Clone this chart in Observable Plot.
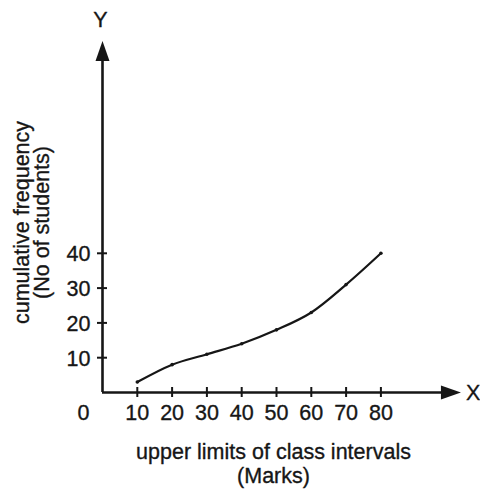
<!DOCTYPE html>
<html>
<head>
<meta charset="utf-8">
<script src="https://cdn.jsdelivr.net/npm/d3@7"></script>
<script src="https://cdn.jsdelivr.net/npm/@observablehq/plot@0.6"></script>
<style>
  html, body { margin: 0; padding: 0; background: #fff; }
  #chart { width: 480px; height: 489px; }
</style>
</head>
<body>
<div id="chart"></div>
<script>
// Data (upper limits of class intervals and cumulative frequencies)
const upperLimits = [10, 20, 30, 40, 50, 60, 70, 80];
const cumulativeFrequency = [3, 8, 11, 14, 18, 23, 31, 40];
const xTicks = [10, 20, 30, 40, 50, 60, 70, 80];
const yTicks = [10, 20, 30, 40];
const originLabel = ["0"];
const xAxisName = ["X"];
const yAxisName = ["Y"];
const xTitle = ["upper limits of class intervals", "(Marks)"];
const yTitle = ["cumulative frequency", "(No of students)"];
const xAxisEnd = [103];
const yAxisEnd = [101];

const points = upperLimits.map((x, i) => ({x, y: cumulativeFrequency[i]}));
const ink = "#161616";
const font = "'Liberation Sans', Arial, Helvetica, sans-serif";
const fs = 21.5;
const txt = {fill: ink, fontSize: fs, stroke: ink, strokeWidth: 0.35};

// filled arrowhead, tip at origin, pointing up
const arrowHead = {
  draw(ctx, size) {
    ctx.moveTo(0, 0);
    ctx.lineTo(-7, 20);
    ctx.lineTo(7, 20);
    ctx.closePath();
  }
};

const chart = Plot.plot({
  width: 480,
  height: 489,
  marginLeft: 102,
  marginRight: 30,
  marginTop: 44,
  marginBottom: 97,
  style: {fontFamily: font, fontSize: fs + "px", color: ink, background: "#fff"},
  x: {type: "linear", domain: [0, 100], axis: null},
  y: {type: "linear", domain: [0, 100], axis: null},
  marks: [
    // axes lines
    Plot.ruleY([0], {x1: 0, x2: xAxisEnd[0] - 3, stroke: ink, strokeWidth: 2.6}),
    Plot.ruleX([0], {y1: 0, y2: yAxisEnd[0] - 3, stroke: ink, strokeWidth: 2.6}),
    // arrowheads
    Plot.dot(xAxisEnd, {x: d => d, y: 0, symbol: arrowHead, fill: ink, stroke: "none", rotate: 90}),
    Plot.dot(yAxisEnd, {x: 0, y: d => d, symbol: arrowHead, fill: ink, stroke: "none"}),
    // ticks crossing the axes
    Plot.ruleX(xTicks, {x: d => d, y1: 0, y2: 0, insetTop: -5, insetBottom: -5, stroke: ink, strokeWidth: 2}),
    Plot.ruleY(yTicks, {y: d => d, x1: 0, x2: 0, insetLeft: -5, insetRight: -5, stroke: ink, strokeWidth: 2}),
    // tick labels
    Plot.text(xTicks, {x: d => d, y: 0, text: d => String(d), dy: 21, ...txt}),
    Plot.text(originLabel, {x: 0, y: 0, text: d => d, dy: 21, dx: -19, ...txt}),
    Plot.text(yTicks, {x: 0, y: d => d, text: d => String(d), textAnchor: "end", dx: -12, dy: 1, ...txt}),
    // axis names
    Plot.text(xAxisName, {x: xAxisEnd[0], y: 0, text: d => d, textAnchor: "start", dx: 5, dy: 1, ...txt}),
    Plot.text(yAxisName, {x: 0, y: yAxisEnd[0], text: d => d, dx: -2, dy: -21, ...txt}),
    // titles
    Plot.text([xTitle.join("\n")], {frameAnchor: "bottom", text: d => d, textAnchor: "middle", lineAnchor: "middle", dx: -3, dy: 71, lineHeight: 1.12, ...txt}),
    Plot.text([yTitle.join("\n")], {frameAnchor: "left", text: d => d, textAnchor: "middle", lineAnchor: "middle", rotate: -90, dx: -70, dy: 4, lineHeight: 0.95, ...txt}),
    // ogive
    Plot.line(points, {x: "x", y: "y", curve: "catmull-rom", stroke: ink, strokeWidth: 2.2}),
    Plot.dot(points, {x: "x", y: "y", r: 1.8, fill: ink, stroke: "none"})
  ]
});
document.getElementById("chart").appendChild(chart);
</script>
</body>
</html>
